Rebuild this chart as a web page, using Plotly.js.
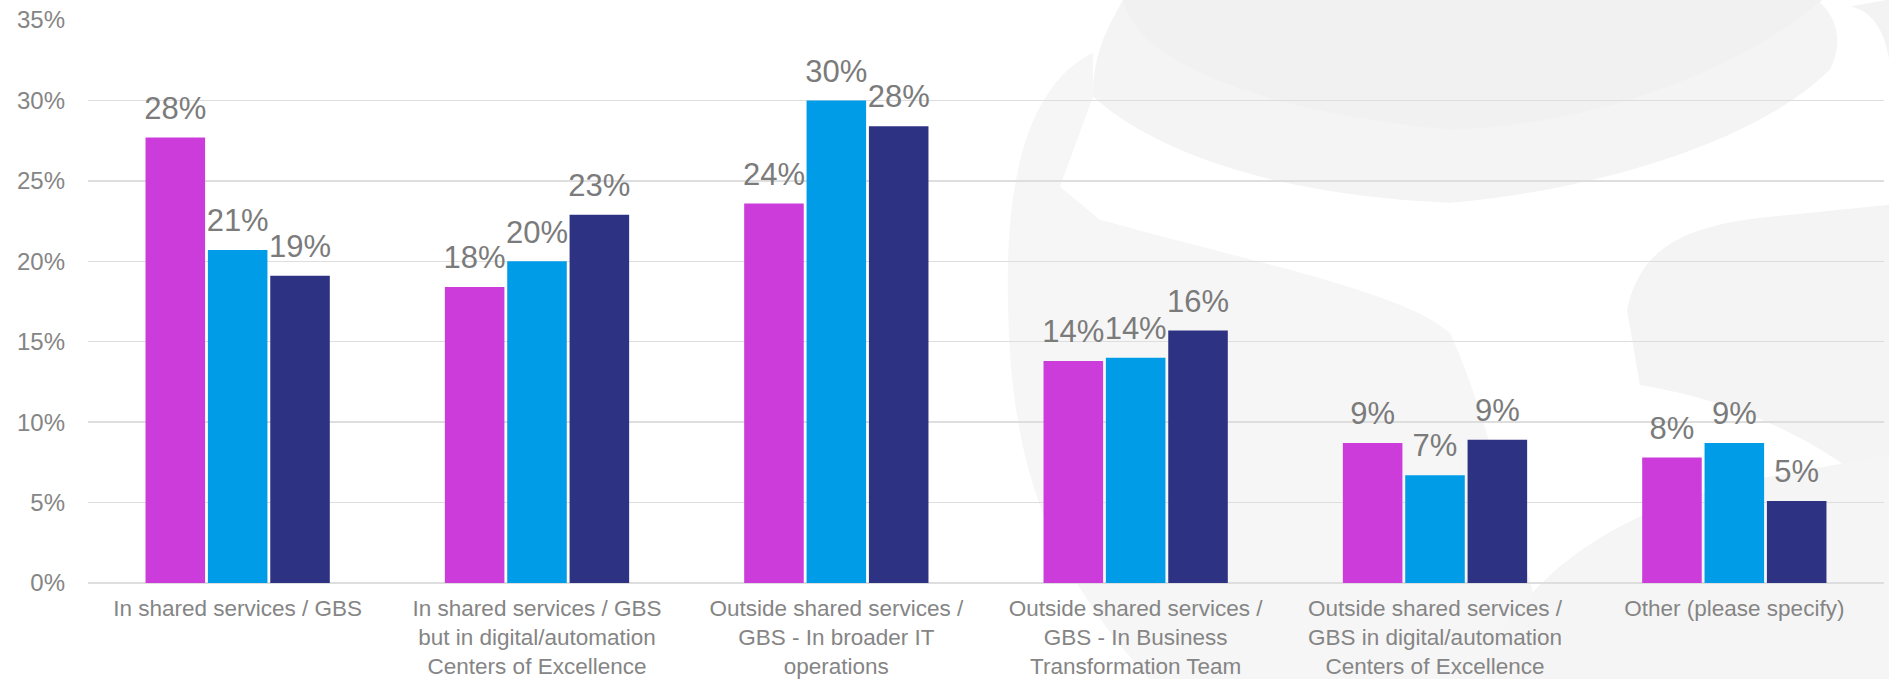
<!DOCTYPE html>
<html>
<head>
<meta charset="utf-8">
<script src="https://cdn.plot.ly/plotly-3.0.1.min.js"></script>
<style>
  html, body { margin: 0; padding: 0; background: #ffffff; }
  #gd { width: 1889px; height: 679px; }
</style>
</head>
<body>
<div id="gd"></div>
<script>
// categories (x axis) and the three series
var categories = [
  "In shared services / GBS",
  "In shared services / GBS<br>but in digital/automation<br>Centers of Excellence",
  "Outside shared services /<br>GBS - In broader IT<br>operations",
  "Outside shared services /<br>GBS - In Business<br>Transformation Team",
  "Outside shared services /<br>GBS in digital/automation<br>Centers of Excellence",
  "Other (please specify)"
];
var seriesA = [27.7, 18.4, 23.6, 13.8, 8.7, 7.8];
var seriesB = [20.7, 20.0, 30.0, 14.0, 6.7, 8.7];
var seriesC = [19.1, 22.9, 28.4, 15.7, 8.9, 5.1];
var yTicks = [0, 5, 10, 15, 20, 25, 30, 35];
var yTickText = ["0%", "5%", "10%", "15%", "20%", "25%", "30%", "35%"];

var colors = ["#CB3CDB", "#009CE8", "#2E3282"];
var fontFamily = "Arial, 'Liberation Sans', sans-serif";

function barTrace(name, values, color) {
  return {
    type: "bar",
    name: name,
    x: categories,
    y: values,
    marker: { color: color, line: { width: 0 } },
    hoverinfo: "skip"
  };
}

// value labels as invisible markers + text, grouped like the bars
function labelTrace(name, values) {
  return {
    type: "scatter",
    mode: "markers+text",
    name: name,
    x: categories,
    y: values,
    marker: { size: 16, opacity: 0 },
    texttemplate: "%{y:.0f}%",
    textposition: "top center",
    cliponaxis: false,
    textfont: { family: fontFamily, size: 31, color: "#7b7b7b" },
    hoverinfo: "skip"
  };
}

// faint background watermark, given in pixel coords and turned into paper coords
var plotL = 88, plotR = 1884, plotT = 20.5, plotB = 582.7;
function px(x) { return ((x - plotL) / (plotR - plotL)).toFixed(4); }
function py(y) { return ((plotB - y) / (plotB - plotT)).toFixed(4); }
function pathFrom(cmds) {
  return cmds.map(function (c) {
    var s = c[0];
    for (var i = 1; i < c.length; i += 2) s += (i > 1 ? " " : "") + px(c[i]) + "," + py(c[i + 1]);
    return s;
  }).join(" ");
}
function blob(cmds, fill) {
  return {
    type: "path", xref: "paper", yref: "paper", layer: "below",
    path: pathFrom(cmds), fillcolor: fill, line: { width: 0 }
  };
}

var shapes = [
  // left sweeping band
  blob([["M", 1093, 53], ["C", 1040, 80, 1005, 150, 1008, 300], ["C", 1010, 450, 1040, 560, 1150, 679],
        ["L", 1560, 679], ["C", 1520, 560, 1490, 420, 1450, 333], ["C", 1400, 290, 1250, 262, 1100, 220],
        ["L", 1060, 187], ["L", 1093, 97], ["Z"]], "#f6f6f6"),
  // top band around the head
  blob([["M", 1123, 0], ["C", 1110, 25, 1093, 50, 1093, 97], ["C", 1140, 140, 1250, 195, 1450, 203],
        ["C", 1600, 190, 1760, 140, 1830, 70], ["C", 1845, 40, 1835, 15, 1817, 0], ["Z"]], "#f4f4f4"),
  // top darker blob
  blob([["M", 1123, 0], ["C", 1135, 60, 1250, 110, 1450, 130], ["C", 1600, 125, 1740, 70, 1823, 0], ["Z"]], "#f1f1f1"),
  // right blob
  blob([["M", 1627, 310], ["C", 1640, 250, 1680, 228, 1760, 218], ["L", 1889, 205], ["L", 1889, 500],
        ["C", 1800, 420, 1700, 395, 1640, 385], ["Z"]], "#f4f4f4"),
  // lower right blob
  blob([["M", 1480, 679], ["C", 1520, 570, 1620, 510, 1750, 480], ["L", 1889, 455], ["L", 1889, 679], ["Z"]], "#f5f5f5"),
  // corner sliver
  blob([["M", 1850, 7], ["C", 1870, 10, 1885, 30, 1889, 60], ["L", 1889, 0], ["Z"]], "#f3f3f3")
];

var data = [
  barTrace("Series 1", seriesA, colors[0]),
  barTrace("Series 2", seriesB, colors[1]),
  barTrace("Series 3", seriesC, colors[2]),
  labelTrace("Series 1", seriesA),
  labelTrace("Series 2", seriesB),
  labelTrace("Series 3", seriesC)
];

var layout = {
  width: 1889,
  height: 679,
  margin: { l: 88, r: 5, t: 20, b: 96 },
  paper_bgcolor: "#ffffff",
  plot_bgcolor: "rgba(0,0,0,0)",
  showlegend: false,
  barmode: "group",
  bargap: 0.375,
  bargroupgap: 0.045,
  scattermode: "group",
  scattergap: 0.375,
  font: { family: fontFamily, color: "#858585" },
  xaxis: {
    type: "category",
    showgrid: false,
    showline: false,
    zeroline: false,
    ticks: "",
    tickfont: { family: fontFamily, size: 22.5, color: "#858585" },
    automargin: false,
    ticklabelstandoff: 9
  },
  yaxis: {
    range: [0, 35],
    tickvals: yTicks,
    ticktext: yTickText,
    showgrid: true,
    gridcolor: "#dedede",
    gridwidth: 1.5,
    zeroline: true,
    zerolinecolor: "#dedede",
    zerolinewidth: 1.5,
    showline: false,
    ticks: "",
    tickfont: { family: fontFamily, size: 24, color: "#858585" },
    automargin: false,
    ticklabelstandoff: 22
  },
  shapes: shapes
};

Plotly.newPlot("gd", data, layout, { displayModeBar: false, staticPlot: true });
</script>
</body>
</html>
